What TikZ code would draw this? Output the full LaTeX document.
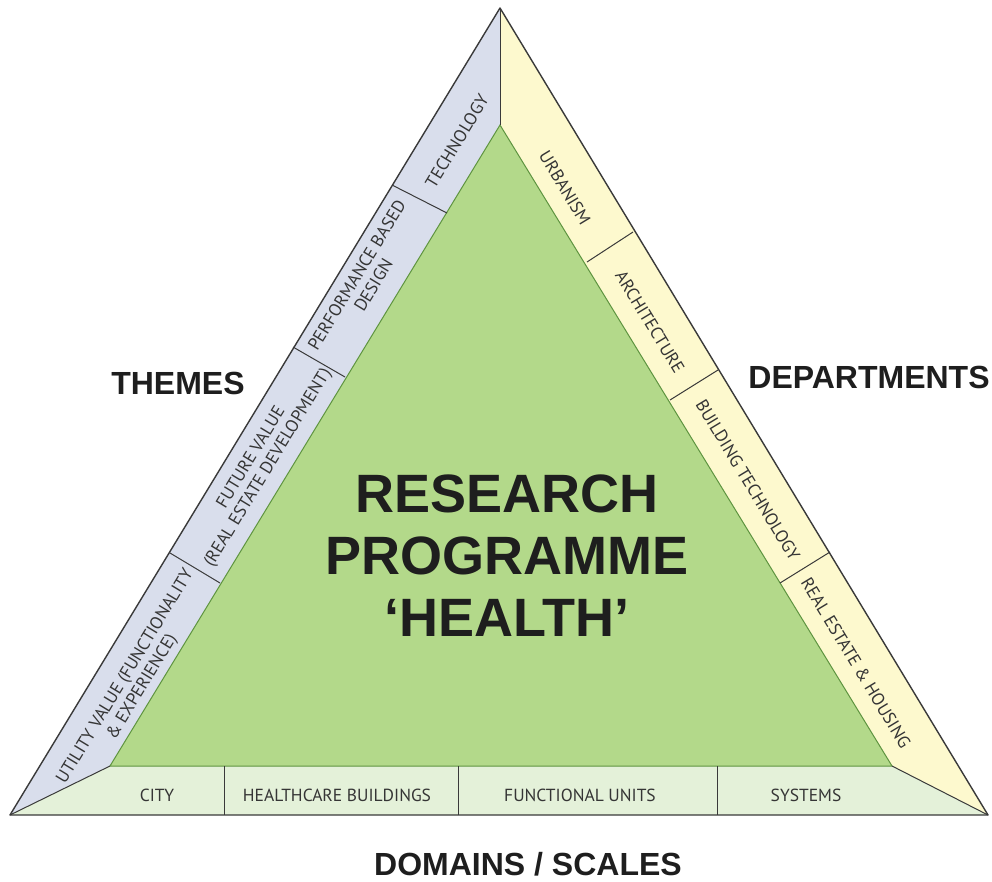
\documentclass[tikz,border=0pt]{standalone}
\usepackage{fontspec}
\setmainfont{Liberation Sans}
\newfontfamily\bandfont{PT Sans}
\usepackage{xcolor}
\usetikzlibrary{calc}
\definecolor{themeblue}{HTML}{D9DEEC}
\definecolor{deptyellow}{HTML}{FDF9CE}
\definecolor{healthgreen}{HTML}{B3D98A}
\definecolor{scalegreen}{HTML}{E4F1D9}
\definecolor{edgegray}{HTML}{3A3A3A}
\definecolor{edgegreen}{HTML}{5E9440}
\definecolor{labelgray}{HTML}{353535}
\definecolor{headblack}{HTML}{1E1E1E}
\tikzstyle{themeshading}=[fill=themeblue]
\tikzstyle{deptshading}=[fill=deptyellow]
\tikzstyle{healthshading}=[fill=healthgreen]
\tikzstyle{scaleshading}=[fill=scalegreen]
\tikzstyle{outline}=[draw=edgegray,line width=1.4pt,line join=round]
\tikzstyle{divider}=[draw=edgegray,line width=1pt]
\tikzstyle{bandlabel}=[font=\bandfont\fontsize{17.5}{19.5}\selectfont,text=labelgray,align=center,inner sep=0pt]
\tikzstyle{heading}=[font=\bfseries\fontsize{32}{36}\selectfont,text=headblack,inner sep=0pt]

\begin{document}
\begin{tikzpicture}[x=1pt,y=-1pt]
	\useasboundingbox (0,0) rectangle (992,881);
	% corners
	\coordinate (apex) at (500,8);
	\coordinate (outerleft) at (10,815);
	\coordinate (outerright) at (988,815);
	\coordinate (innerapex) at (500,125);
	\coordinate (innerleft) at (110,766);
	\coordinate (innerright) at (892,766);
	% bands
	\fill[themeshading] (apex) -- (outerleft) -- (innerleft) -- (innerapex) -- cycle;
	\fill[deptshading] (apex) -- (innerapex) -- (innerright) -- (outerright) -- cycle;
	\fill[scaleshading] (outerleft) -- (outerright) -- (innerright) -- (innerleft) -- cycle;
	\filldraw[healthshading,draw=edgegreen,line width=1pt] (innerapex) -- (innerleft) -- (innerright) -- cycle;
	% edges
	\draw[outline] (apex) -- (outerleft) -- (outerright) -- cycle;
	\draw[divider] (apex) -- (innerapex);
	\draw[divider] (outerleft) -- (innerleft);
	\draw[divider] (outerright) -- (innerright);
	% cells
	\draw[divider] (392,185) -- (447,213);
	\draw[divider] (293,347) -- (345,377);
	\draw[divider] (170,553) -- (220,583);
	\draw[divider] (633,232) -- (587,262);
	\draw[divider] (718,370) -- (670,400);
	\draw[divider] (830,552) -- (780,583);
	\draw[divider] (224,766) -- (224,815);
	\draw[divider] (458,766) -- (458,815);
	\draw[divider] (717,766) -- (717,815);
	% themes
	\node[bandlabel,rotate=58.7] (technology) at (457,141) {TECHNOLOGY};
	\node[bandlabel,rotate=58.7] (performance) at (365,280) {PERFORMANCE BASED\\DESIGN};
	\node[bandlabel,rotate=58.7] (future) at (260,463) {FUTURE VALUE\\(REAL ESTATE DEVELOPMENT)};
	\node[bandlabel,rotate=58.7] (utility) at (134,682) {UTILITY VALUE (FUNCTIONALITY\\\& EXPERIENCE)};
	% departments
	\node[bandlabel,rotate=-58.8] (urbanism) at (565,188) {URBANISM};
	\node[bandlabel,rotate=-58.8] (architecture) at (650,322) {ARCHITECTURE};
	\node[bandlabel,rotate=-58.8] (buildingtech) at (748,480) {BUILDING TECHNOLOGY};
	\node[bandlabel,rotate=-58.8] (realestate) at (856,663) {REAL ESTATE \& HOUSING};
	% domains
	\node[bandlabel] (city) at (157,795) {CITY};
	\node[bandlabel] (buildings) at (337,795) {HEALTHCARE BUILDINGS};
	\node[bandlabel] (units) at (580,795) {FUNCTIONAL UNITS};
	\node[bandlabel] (systems) at (806,795) {SYSTEMS};
	% headings
	\node[heading] (themes) at (178,383) {THEMES};
	\node[heading] (departments) at (869,377) {DEPARTMENTS};
	\node[heading] (domains) at (528,864) {DOMAINS / SCALES};
	\node[heading,font=\bfseries\fontsize{54}{62}\selectfont,align=center] (programme) at (507,556) {RESEARCH\\PROGRAMME\\‘HEALTH’};
\end{tikzpicture}
\end{document}
